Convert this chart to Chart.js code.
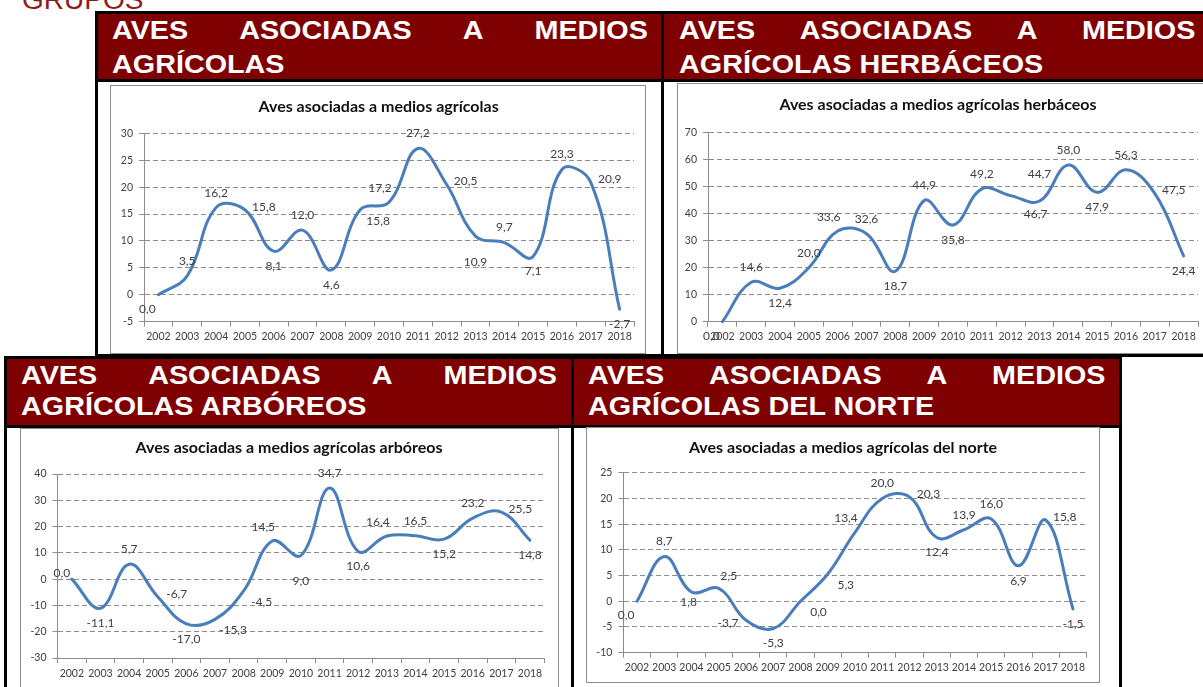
<!DOCTYPE html>
<html lang="es">
<head>
<meta charset="utf-8">
<title>Aves asociadas a medios agrícolas</title>
<script src="https://cdn.jsdelivr.net/npm/chart.js@4.4.1/dist/chart.umd.min.js"></script>
<style>
  body { margin: 0; background: #fff; }
  #page { position: relative; width: 1203px; height: 687px; overflow: hidden; font-family: "Liberation Sans", Arial, sans-serif; }
  .frame { position: absolute; border: 3px solid #000; box-sizing: border-box; }
  .head { position: absolute; background: #7f0000; }
  .bar { position: absolute; background: #000; }
  .htxt { position: absolute; color: #fff; font-weight: bold; font-size: 25px; transform-origin: 0 0; transform: scaleX(1.15); white-space: nowrap; }
  .htxt .l1 { display: flex; justify-content: space-between; }
  .box { position: absolute; border: 1px solid #8c8c8c; box-sizing: border-box; background: #fff; overflow: hidden; }
  .box canvas { position: absolute; left: 0; top: 0; }
  #grupos { position: absolute; left: 22px; top: -14px; font-size: 28px; line-height: 28px; color: #8e1b1b; }
</style>
</head>
<body>
<div id="page">
  <div id="grupos">GRUPOS</div>

  <!-- tabla superior -->
  <div class="frame" style="left:95px;top:11px;width:1125px;height:346px"></div>
  <div class="head" style="left:98px;top:14px;width:1110px;height:65px"></div>
  <div class="bar" style="left:95px;top:79px;width:1125px;height:3px"></div>
  <div class="bar" style="left:661px;top:11px;width:3px;height:346px"></div>
  <div class="htxt" style="left:112px;top:13px;width:466px;line-height:34px">
    <div class="l1"><span>AVES</span><span>ASOCIADAS</span><span>A</span><span>MEDIOS</span></div>
    <div>AGRÍCOLAS</div>
  </div>
  <div class="htxt" style="left:679px;top:13px;width:449px;line-height:34px">
    <div class="l1"><span>AVES</span><span>ASOCIADAS</span><span>A</span><span>MEDIOS</span></div>
    <div>AGRÍCOLAS HERBÁCEOS</div>
  </div>

  <!-- tabla inferior -->
  <div class="frame" style="left:4px;top:356px;width:1118px;height:400px"></div>
  <div class="head" style="left:7px;top:359px;width:1112px;height:66px"></div>
  <div class="bar" style="left:4px;top:425px;width:1118px;height:3px"></div>
  <div class="bar" style="left:571px;top:356px;width:3px;height:400px"></div>
  <div class="htxt" style="left:21px;top:360px;width:466px;line-height:31px">
    <div class="l1"><span>AVES</span><span>ASOCIADAS</span><span>A</span><span>MEDIOS</span></div>
    <div>AGRÍCOLAS ARBÓREOS</div>
  </div>
  <div class="htxt" style="left:588px;top:360px;width:450px;line-height:31px">
    <div class="l1"><span>AVES</span><span>ASOCIADAS</span><span>A</span><span>MEDIOS</span></div>
    <div>AGRÍCOLAS DEL NORTE</div>
  </div>

  <div class="box" style="left:110px;top:85px;width:536px;height:269px"><canvas id="c1" width="534" height="267"></canvas></div>
  <div class="box" style="left:677px;top:83px;width:540px;height:271px"><canvas id="c2" width="538" height="269"></canvas></div>
  <div class="box" style="left:20px;top:428px;width:539px;height:270px"><canvas id="c3" width="537" height="268"></canvas></div>
  <div class="box" style="left:586px;top:427px;width:514px;height:256px"><canvas id="c4" width="512" height="254"></canvas></div>
</div>

<script>
// Años (categorías)
const years = ['2002', '2003', '2004', '2005', '2006', '2007', '2008', '2009', '2010',
               '2011', '2012', '2013', '2014', '2015', '2016', '2017', '2018'];

// Series
const agricolas = [0.0, 3.5, 16.2, 15.8, 8.1, 12.0, 4.6, 15.8, 17.2, 27.2, 20.5, 10.9, 9.7, 7.1, 23.3, 20.9, -2.7];
const herbaceos = [0.0, 14.6, 12.4, 20.0, 33.6, 32.6, 18.7, 44.9, 35.8, 49.2, 46.7, 44.7, 58.0, 47.9, 56.3, 47.5, 24.4];
const arboreos  = [0.0, -11.1, 5.7, -6.7, -17.0, -15.3, -4.5, 14.5, 9.0, 34.7, 10.6, 16.4, 16.5, 15.2, 23.2, 25.5, 14.8];
const norte     = [0.0, 8.7, 1.8, 2.5, -3.7, -5.3, 0.0, 5.3, 13.4, 20.0, 20.3, 12.4, 13.9, 16.0, 6.9, 15.8, -1.5];

// Marcas del eje Y
const ticksAgricolas = [-5, 0, 5, 10, 15, 20, 25, 30];
const ticksHerbaceos = [0, 10, 20, 30, 40, 50, 60, 70];
const ticksArboreos  = [-30, -20, -10, 0, 10, 20, 30, 40];
const ticksNorte     = [-10, -5, 0, 5, 10, 15, 20, 25];

// Dónde va cada etiqueta de dato respecto a su punto
const posAgricolas = ['bl','a','a','r','b','a','b','br','al','a','r','bb','a','b','a','r','b'];
const posHerbaceos = ['bl','a','b','a','al','a','b','a','b','a','bbr','aa','a','b','a','r','b'];
const posArboreos  = ['ul','b','a','r','b','br','br','al','bb','a','b','al','a','b','a','r','b'];
const posNorte     = ['bl','a','bs','ar','l','b','br','br','al','a','r','b','a','a','b','r','b'];

const OFFS = {
    a: [0, -15], aa: [0, -27], b: [0, 15], bb: [0, 26], bs: [-3, 10],
    r: [19, -3], l: [-18, 3], al: [-9, -14], ar: [10, -12], ul: [-10, -6],
    bl: [-11, 14], br: [18, 11], bbr: [25, 19]
};

// Etiquetas de datos (coma decimal)
const pointLabels = {
    id: 'pointLabels',
    afterDatasetsDraw(chart) {
        const ctx = chart.ctx;
        const ds = chart.data.datasets[0];
        const meta = chart.getDatasetMeta(0);
        ctx.save();
        ctx.font = '12px Lato, "DejaVu Sans", sans-serif';
        ctx.fillStyle = '#404040';
        ctx.textAlign = 'center';
        ctx.textBaseline = 'middle';
        meta.data.forEach((pt, i) => {
            const o = OFFS[ds.labelPos[i]] || [0, -15];
            ctx.fillText(ds.data[i].toFixed(1).replace('.', ','), pt.x + o[0], pt.y + o[1]);
        });
        ctx.restore();
    }
};

// Título del gráfico, centrado sobre el recuadro como en Excel
const chartTitle = {
    id: 'chartTitle',
    afterDraw(chart, args, opts) {
        const ctx = chart.ctx;
        ctx.save();
        ctx.font = 'bold 16px Lato, "DejaVu Sans", sans-serif';
        ctx.fillStyle = '#111';
        ctx.textAlign = 'center';
        ctx.textBaseline = 'middle';
        ctx.fillText(opts.text, opts.x, opts.y);
        ctx.restore();
    }
};

function makeChart(id, title, values, ticks, pos, L) {
    const ctx = document.getElementById(id).getContext('2d');
    return new Chart(ctx, {
        type: 'line',
        data: {
            labels: years,
            datasets: [{
                data: values,
                labelPos: pos,
                borderColor: '#4a7ebb',
                borderWidth: 3,
                tension: 0.4,
                pointRadius: 0,
                fill: false,
                clip: false,
                borderCapStyle: 'round',
                borderJoinStyle: 'round'
            }]
        },
        options: {
            responsive: false,
            animation: false,
            layout: { padding: { left: 0, right: L.rp, top: L.top, bottom: 0 } },
            plugins: {
                legend: { display: false },
                tooltip: { enabled: false },
                title: { display: false },
                chartTitle: { text: title, x: L.tx, y: L.ty }
            },
            scales: {
                x: {
                    offset: true,
                    grid: { offset: true, drawOnChartArea: false, drawTicks: true, tickLength: 5, color: '#8c8c8c' },
                    border: { display: true, color: '#8c8c8c' },
                    ticks: { autoSkip: false, maxRotation: 0, minRotation: 0, padding: 4, color: '#404040',
                             font: { family: 'Lato', size: 10.5 } },
                    afterFit(s) { s.height = L.xh; }
                },
                y: {
                    min: ticks[0],
                    max: ticks[ticks.length - 1],
                    ticks: { stepSize: ticks[1] - ticks[0], padding: 6, color: '#404040',
                             font: { family: 'Lato', size: 10.5 } },
                    grid: { color: '#8c8c8c', tickLength: 5, tickBorderDash: [] },
                    border: { display: true, color: '#8c8c8c', dash: [5, 3] },
                    afterFit(s) { s.width = L.yw; }
                }
            }
        },
        plugins: [pointLabels, chartTitle]
    });
}

document.addEventListener('DOMContentLoaded', () => {
    makeChart('c1', 'Aves asociadas a medios agrícolas', agricolas, ticksAgricolas, posAgricolas,
              { yw: 33, rp: 11, top: 47.5, xh: 31.5, tx: 267.6, ty: 21 });
    makeChart('c2', 'Aves asociadas a medios agrícolas herbáceos', herbaceos, ticksHerbaceos, posHerbaceos,
              { yw: 30, rp: 18, top: 48.7, xh: 31.3, tx: 260, ty: 21 });
    makeChart('c3', 'Aves asociadas a medios agrícolas arbóreos', arboreos, ticksArboreos, posArboreos,
              { yw: 36.5, rp: 13.7, top: 45, xh: 39, tx: 268, ty: 18.5 });
    makeChart('c4', 'Aves asociadas a medios agrícolas del norte', norte, ticksNorte, posNorte,
              { yw: 36.4, rp: 12.4, top: 44.7, xh: 29.3, tx: 256, ty: 20 });
});
</script>
</body>
</html>
